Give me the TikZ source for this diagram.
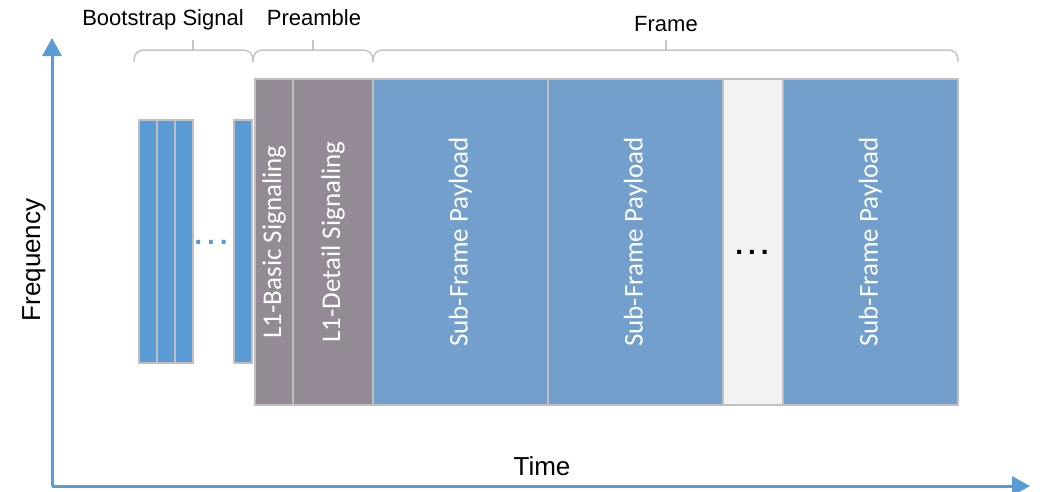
\documentclass[tikz,border=0pt]{standalone}
\usepackage{fontspec}
\setmainfont{Liberation Sans}
\newfontfamily\calfont{Carlito}
\usetikzlibrary{arrows.meta}
\definecolor{bootblue}{HTML}{5B9BD5}
\definecolor{preamblegray}{HTML}{938A95}
\definecolor{payloadblue}{HTML}{739FCD}
\definecolor{gapgray}{HTML}{F2F2F2}
\definecolor{edgegray}{HTML}{BFBFBF}
\begin{document}
\begin{tikzpicture}[x=1pt,y=-1pt,
	bar/.style={draw=edgegray,line width=1.5pt,fill=bootblue,inner sep=0pt,minimum width=18pt,minimum height=243pt},
	block/.style={draw=edgegray,line width=1.5pt,inner sep=0pt,minimum height=326pt,text=white,font=\calfont\fontsize{27}{30}\selectfont},
	brace line/.style={draw=edgegray!90,line width=1.5pt},
	axis/.style={draw=bootblue,line width=3pt,-{Triangle[length=18pt,width=19pt]}},
	head/.style={anchor=base,font=\fontsize{22}{26}\selectfont},
	axis label/.style={anchor=base,font=\fontsize{26}{30}\selectfont},
	dots/.style={anchor=base,font=\bfseries\fontsize{28}{30}\selectfont}]
	\useasboundingbox (0,0) rectangle (1043,491);
	% bootstrap symbols
	\path
	+(148,241.5) node[bar] (b1) {}
	+(166,241.5) node[bar] (b2) {}
	+(184,241.5) node[bar] (b3) {}
	+(243,241.5) node[bar] (bn) {}
	+(211,244)   node[dots,text=bootblue] (bdots) {.\hspace{5pt}.\hspace{5pt}.}
	;
	% preamble and frame
	\path
	+(274,242)   node[block,fill=preamblegray,minimum width=38pt]  (basic)  {\rotatebox{90}{L1-Basic Signaling}}
	+(333,242)   node[block,fill=preamblegray,minimum width=80pt]  (detail) {\rotatebox{90}{L1-Detail Signaling}}
	+(460.5,242) node[block,fill=payloadblue,minimum width=175pt]  (sf1)    {\rotatebox{90}{Sub-Frame Payload}}
	+(635.5,242) node[block,fill=payloadblue,minimum width=175pt]  (sf2)    {\rotatebox{90}{Sub-Frame Payload}}
	+(753,242)   node[block,fill=gapgray,minimum width=60pt]       (gap)    {}
	+(752,254)   node[dots] (gdots) {.\hspace{5pt}.\hspace{5pt}.}
	+(870.5,242) node[block,fill=payloadblue,minimum width=175pt]  (sfn)    {\rotatebox{90}{Sub-Frame Payload}}
	;
	% braces
	\draw[brace line] (134,62) .. controls (134,53) and (137,50) .. (146,50) -- (241,50) .. controls (250,50) and (253,53) .. (253,62);
	\draw[brace line] (193,50) -- (193,40);
	\draw[brace line] (253,62) .. controls (253,53) and (256,50) .. (265,50) -- (361,50) .. controls (370,50) and (373,53) .. (373,62);
	\draw[brace line] (313,50) -- (313,40);
	\draw[brace line] (373,62) .. controls (373,53) and (376,50) .. (385,50) -- (946,50) .. controls (955,50) and (958,53) .. (958,62);
	\draw[brace line] (666,50) -- (666,40);
	\path
	+(163,25) node[head] (bootlabel) {Bootstrap Signal}
	+(314,25) node[head] (prelabel)  {Preamble}
	+(666,31) node[head] (framelabel) {Frame}
	;
	% axes
	\coordinate (O) at (52,486);
	\coordinate (T) at (1030,486);
	\coordinate (F) at (52,38);
	\draw[axis] (O) -- (T);
	\draw[axis] (O) -- (F);
	\node[axis label] (time) at (542,475) {Time};
	\node[axis label,rotate=90] (freq) at (40,260) {Frequency};
\end{tikzpicture}
\end{document}
